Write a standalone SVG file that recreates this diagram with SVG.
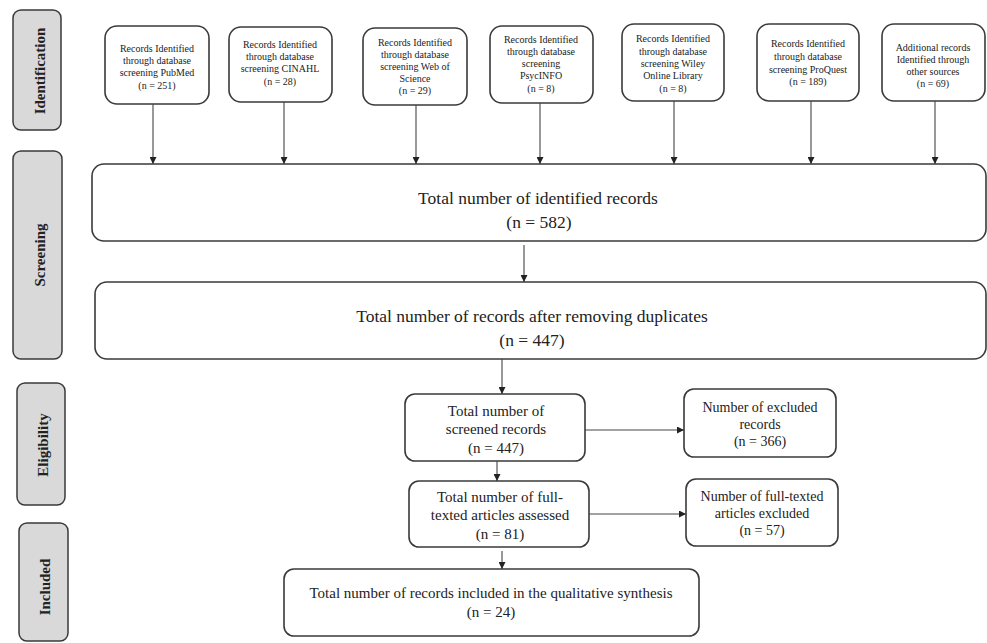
<svg xmlns="http://www.w3.org/2000/svg" width="987" height="643" viewBox="0 0 987 643">
<style>
.bg{fill:#fff}
.side rect{fill:#d9d9d9;stroke:#3a3a3a;stroke-width:1.5}
.side text{font-family:"Liberation Serif",serif;font-weight:bold;font-size:15px;fill:#222;text-anchor:middle}
.box rect{fill:#fff;stroke:#3a3a3a;stroke-width:1.6}
.s text{font-family:"Liberation Serif",serif;font-size:10px;fill:#222;text-anchor:middle}
.m text{font-family:"Liberation Serif",serif;font-size:15px;fill:#222;text-anchor:middle}
.m2 text{font-family:"Liberation Serif",serif;font-size:14px;fill:#222;text-anchor:middle}
.l text{font-family:"Liberation Serif",serif;font-size:17.5px;fill:#222;text-anchor:middle}
#connectors line{stroke:#444;stroke-width:1.1;marker-end:url(#ah)}
</style>
<defs>
<marker id="ah" viewBox="0 0 10 10" refX="10" refY="5" markerWidth="7" markerHeight="7" markerUnits="userSpaceOnUse" orient="auto">
<path d="M0,0 L10,5 L0,10 z" fill="#222"/>
</marker>
</defs>
<rect class="bg" width="987" height="643"/>

<g id="side-identification" class="side"><rect x="13" y="10" width="48" height="120" rx="8"/><text transform="translate(45,71) rotate(-90)">Identification</text></g>
<g id="side-screening" class="side"><rect x="13" y="151" width="49" height="208" rx="8"/><text transform="translate(45,255) rotate(-90)">Screening</text></g>
<g id="side-eligibility" class="side"><rect x="17" y="383" width="48" height="122" rx="8"/><text transform="translate(48,445) rotate(-90)">Eligibility</text></g>
<g id="side-included" class="side"><rect x="19" y="523" width="49" height="118" rx="8"/><text transform="translate(50,587) rotate(-90)">Included</text></g>

<g id="pubmed" class="box s"><rect x="105" y="26" width="104" height="78" rx="12"/>
<text x="157" y="52">Records Identified</text><text x="157" y="64">through database</text><text x="157" y="76">screening PubMed</text><text x="157" y="89">(n = 251)</text></g>
<g id="cinahl" class="box s"><rect x="229" y="27" width="103" height="75" rx="12"/>
<text x="280" y="48">Records Identified</text><text x="280" y="60">through database</text><text x="280" y="72">screening CINAHL</text><text x="280" y="85">(n = 28)</text></g>
<g id="wos" class="box s"><rect x="363" y="28" width="104" height="77" rx="12"/>
<text x="415" y="46">Records Identified</text><text x="415" y="58">through database</text><text x="415" y="70">screening Web of</text><text x="415" y="82">Science</text><text x="415" y="94">(n = 29)</text></g>
<g id="psycinfo" class="box s"><rect x="490" y="26" width="103" height="77" rx="12"/>
<text x="541" y="43">Records Identified</text><text x="541" y="55">through database</text><text x="541" y="67">screening</text><text x="541" y="79">PsycINFO</text><text x="541" y="92">(n = 8)</text></g>
<g id="wiley" class="box s"><rect x="622" y="24" width="102" height="77" rx="12"/>
<text x="673" y="42">Records Identified</text><text x="673" y="55">through database</text><text x="673" y="67">screening Wiley</text><text x="673" y="79">Online Library</text><text x="673" y="92">(n = 8)</text></g>
<g id="proquest" class="box s"><rect x="757" y="24" width="102" height="77" rx="12"/>
<text x="808" y="47">Records Identified</text><text x="808" y="60">through database</text><text x="808" y="73">screening ProQuest</text><text x="808" y="85">(n = 189)</text></g>
<g id="other" class="box s"><rect x="882" y="24" width="103" height="77" rx="12"/>
<text x="933" y="51">Additional records</text><text x="933" y="63">Identified through</text><text x="933" y="75">other sources</text><text x="933" y="87">(n = 69)</text></g>

<g id="identified" class="box l"><rect x="92" y="164" width="894" height="77" rx="12"/>
<text x="538" y="204">Total number of identified records</text><text x="539" y="228">(n = 582)</text></g>
<g id="deduplicated" class="box l"><rect x="95" y="282" width="891" height="77" rx="12"/>
<text x="532" y="322">Total number of records after removing duplicates</text><text x="532" y="346">(n = 447)</text></g>

<g id="screened" class="box m"><rect x="405" y="394" width="180" height="67" rx="10"/>
<text x="496" y="416">Total number of</text><text x="496" y="434">screened records</text><text x="496" y="453">(n = 447)</text></g>
<g id="excluded" class="box m2"><rect x="684" y="389" width="152" height="68" rx="10"/>
<text x="760" y="412">Number of excluded</text><text x="760" y="429">records</text><text x="760" y="446">(n = 366)</text></g>
<g id="fulltext" class="box m"><rect x="409" y="481" width="180" height="66" rx="10"/>
<text x="500" y="502">Total number of full-</text><text x="500" y="520">texted articles assessed</text><text x="500" y="539">(n = 81)</text></g>
<g id="fulltext-excluded" class="box m2"><rect x="686" y="479" width="152" height="67" rx="10"/>
<text x="762" y="501">Number of full-texted</text><text x="762" y="518">articles excluded</text><text x="762" y="535">(n = 57)</text></g>
<g id="included" class="box m"><rect x="284" y="569" width="415" height="67" rx="10"/>
<text x="491" y="598">Total number of records included in the qualitative synthesis</text><text x="491" y="617">(n = 24)</text></g>

<g id="connectors">
<line x1="153" y1="104" x2="153" y2="164"/>
<line x1="284" y1="102" x2="284" y2="164"/>
<line x1="416" y1="105" x2="416" y2="164"/>
<line x1="540" y1="103" x2="540" y2="164"/>
<line x1="674" y1="101" x2="674" y2="164"/>
<line x1="811" y1="101" x2="811" y2="164"/>
<line x1="935" y1="101" x2="935" y2="164"/>
<line x1="524" y1="245" x2="524" y2="282"/>
<line x1="502" y1="359" x2="502" y2="394"/>
<line x1="585" y1="430" x2="684" y2="430"/>
<line x1="497" y1="461" x2="497" y2="481"/>
<line x1="589" y1="514" x2="686" y2="514"/>
<line x1="502" y1="551" x2="502" y2="569"/>
</g>
</svg>
